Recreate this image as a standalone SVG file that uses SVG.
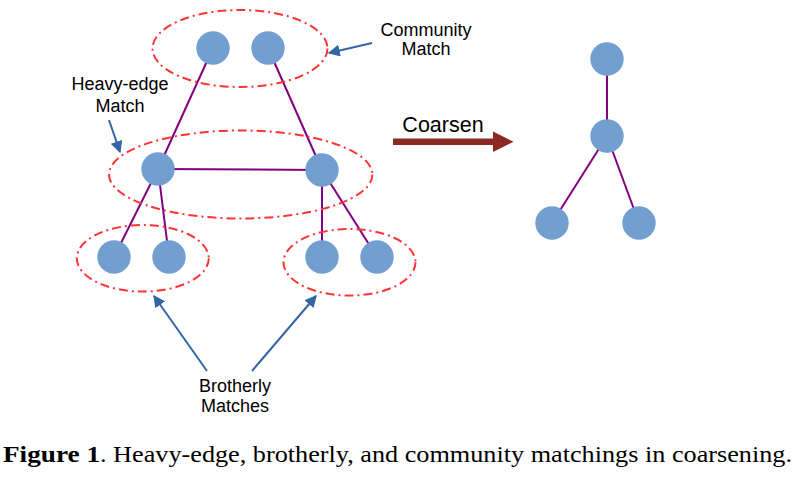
<svg xmlns="http://www.w3.org/2000/svg" width="802" height="481" viewBox="0 0 802 481">
<defs>
<style>
.node{fill:#729fcf;}
.edge{stroke:#800080;stroke-width:2;fill:none;}
.grp{fill:none;stroke:#ff3333;stroke-width:2;stroke-dasharray:9 4 2 4;}
.ptr{stroke:#3465a4;stroke-width:2;fill:none;marker-end:url(#ah);}
.lbl{font-family:"Liberation Sans",Arial,sans-serif;font-size:18px;fill:#000;text-anchor:middle;}
.cap{font-family:"Liberation Serif","Times New Roman",serif;font-size:24px;fill:#000;}
</style>
<marker id="ah" viewBox="0 0 10 10" refX="9" refY="5" markerWidth="6" markerHeight="6" orient="auto" markerUnits="strokeWidth">
<path d="M0,0 L10,5 L0,10 Z" fill="#3465a4"/>
</marker>
</defs>
<rect width="802" height="481" fill="#ffffff"/>

<g id="connectors">
<line class="edge" x1="213" y1="48" x2="158" y2="169"/>
<line class="edge" x1="268" y1="48" x2="322" y2="170"/>
<line class="edge" x1="158" y1="169" x2="322" y2="170"/>
<line class="edge" x1="158" y1="169" x2="114" y2="257"/>
<line class="edge" x1="158" y1="169" x2="169" y2="257"/>
<line class="edge" x1="322" y1="170" x2="322" y2="257"/>
<line class="edge" x1="322" y1="170" x2="377" y2="257"/>
<line class="edge" x1="607" y1="59" x2="607" y2="136"/>
<line class="edge" x1="607" y1="136" x2="552" y2="223"/>
<line class="edge" x1="607" y1="136" x2="639" y2="223"/>
<line class="ptr" x1="372" y1="43" x2="329" y2="53"/>
<line class="ptr" x1="109" y1="120" x2="120" y2="152"/>
<line class="ptr" x1="207" y1="371" x2="154" y2="296"/>
<line class="ptr" x1="252" y1="371" x2="316" y2="296"/>
<path id="coarsen-arrow" d="M393,138.5 L493,138.5 L493,131.5 L513.5,141.7 L493,152 L493,145 L393,145 Z" fill="#8b2a22"/>
</g>

<g id="groups">
<ellipse id="community-match" class="grp" cx="240" cy="48.5" rx="87.5" ry="38.5"/>
<ellipse id="heavy-edge-match" class="grp" cx="240.7" cy="174.5" rx="131.7" ry="44"/>
<ellipse id="brother-left" class="grp" cx="142.8" cy="258.3" rx="66" ry="33.3"/>
<ellipse id="brother-right" class="grp" cx="349.5" cy="262.3" rx="66" ry="33.3"/>
</g>

<g id="n1"><circle class="node" cx="213" cy="48" r="16.7"/></g>
<g id="n2"><circle class="node" cx="268" cy="48" r="16.7"/></g>
<g id="n3"><circle class="node" cx="158" cy="169" r="16.7"/></g>
<g id="n4"><circle class="node" cx="322" cy="170" r="16.7"/></g>
<g id="n5"><circle class="node" cx="114" cy="257" r="16.7"/></g>
<g id="n6"><circle class="node" cx="169" cy="257" r="16.7"/></g>
<g id="n7"><circle class="node" cx="322" cy="257" r="16.7"/></g>
<g id="n8"><circle class="node" cx="377" cy="257" r="16.7"/></g>
<g id="c1"><circle class="node" cx="607" cy="59" r="16.7"/></g>
<g id="c2"><circle class="node" cx="607" cy="136" r="16.7"/></g>
<g id="c3"><circle class="node" cx="552" cy="223" r="16.7"/></g>
<g id="c4"><circle class="node" cx="639" cy="223" r="16.7"/></g>

<g id="labels">
<text class="lbl" x="426" y="36">Community</text>
<text class="lbl" x="426" y="55">Match</text>
<text class="lbl" x="120" y="90">Heavy-edge</text>
<text class="lbl" x="120" y="111.5">Match</text>
<text class="lbl" x="235" y="391.5">Brotherly</text>
<text class="lbl" x="235" y="411.5">Matches</text>
<text x="443" y="131.5" font-family="'Liberation Sans',Arial,sans-serif" font-size="21.5" text-anchor="middle" fill="#000">Coarsen</text>
</g>

<g id="caption">
<text class="cap" x="3" y="461.7" font-weight="bold" textLength="97" lengthAdjust="spacingAndGlyphs">Figure 1</text>
<text class="cap" x="100" y="461.7" textLength="692" lengthAdjust="spacingAndGlyphs">. Heavy-edge, brotherly, and community matchings in coarsening.</text>
</g>
</svg>
